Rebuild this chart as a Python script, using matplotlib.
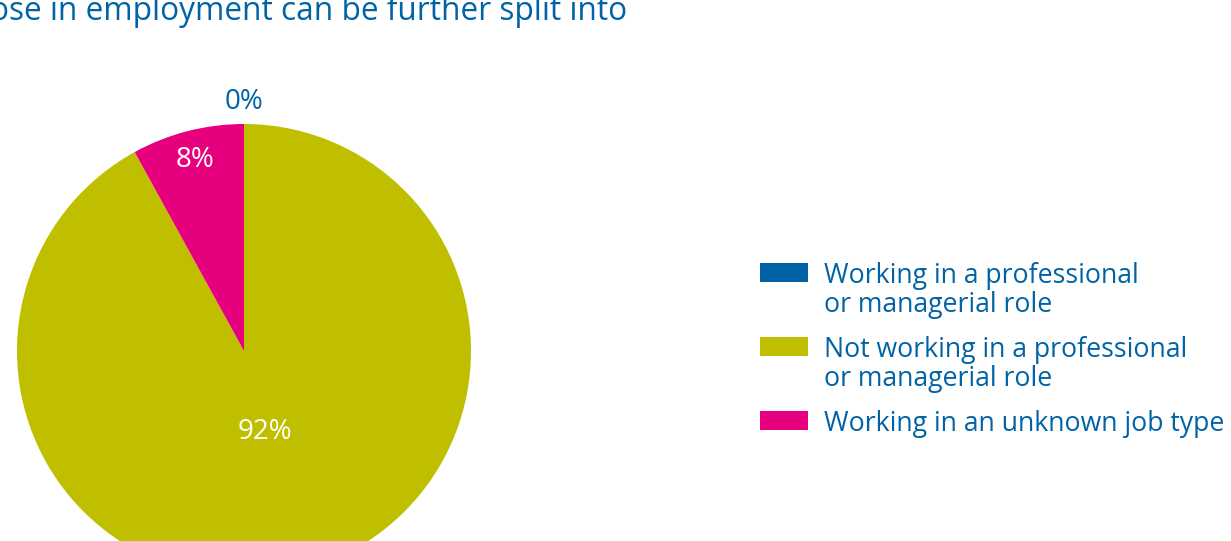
import matplotlib.pyplot as plt
from matplotlib.patches import Rectangle
import numpy as np

# ===== data =====
labels = ["Working in a professional\nor managerial role",
          "Not working in a professional\nor managerial role",
          "Working in an unknown job type"]
values = [0, 92, 8]
colors = ["#0063A6", "#BFBF00", "#E6007E"]
title = "Those in employment can be further split into"

text_blue = "#0063A6"
plt.rcParams['font.family'] = ['Open Sans', 'DejaVu Sans']

W, H = 1231, 541
fig = plt.figure(figsize=(W / 100, H / 100), dpi=100)
ax = fig.add_axes([0, 0, 1, 1])

# pie (pixel coordinates, y up)
cx, cy, r = 244, H - 351, 227
wedges, _ = ax.pie(values, colors=colors, startangle=90, counterclock=False,
                   center=(cx, cy), radius=r, frame=True,
                   wedgeprops=dict(linewidth=0))
ax.set_xlim(0, W)
ax.set_ylim(0, H)
ax.axis('off')

# percentage labels
label_r = [1.095, 0.37, 0.87]
label_c = [text_blue, "white", "white"]
for w, v, lr, lc in zip(wedges, values, label_r, label_c):
    mid = np.deg2rad((w.theta1 + w.theta2) / 2)
    ax.text(cx + lr * r * np.cos(mid), cy + lr * r * np.sin(mid), f"{v}%",
            color=lc, fontsize=20, ha='center', va='center')

# title (cropped at left, as in the source)
ax.text(627, H - 20, title, color=text_blue, fontsize=22.8, ha='right',
        va='baseline')

# legend
leg_tops = [263, 337, 411]
for lab, col, top in zip(labels, colors, leg_tops):
    ax.add_patch(Rectangle((760, H - top - 19), 48, 19, color=col, lw=0))
    for i, line in enumerate(lab.split("\n")):
        ax.text(824, H - top - 20 - 29 * i, line, color=text_blue,
                fontsize=19.2, ha='left', va='baseline')

fig.savefig("out.png", dpi=100)
